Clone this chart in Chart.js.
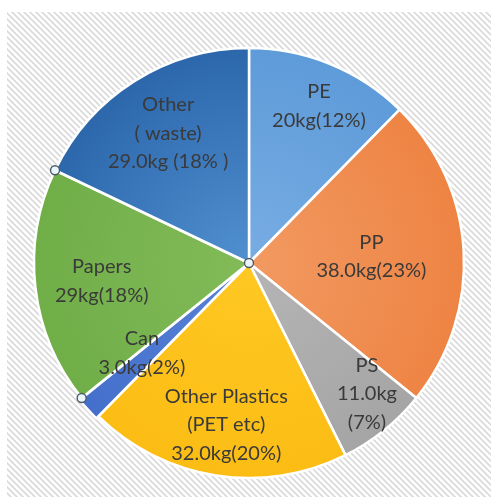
<!DOCTYPE html>
<html>
<head>
<meta charset="utf-8">
<script src="https://cdn.jsdelivr.net/npm/chart.js@4"></script>
<style>
  html, body { margin: 0; padding: 0; background: #ffffff; }
  #wrap { width: 491px; height: 497px; position: relative; }
</style>
</head>
<body>
<div id="wrap"><canvas id="waste-chart"></canvas></div>
<script>
// waste by type, kg
const categories = ['PE', 'PP', 'PS', 'Other Plastics', 'Can', 'Papers', 'Other'];
const weights = [20, 38, 11, 32, 3, 29, 29];
const labelLines = [
    ['PE', '20kg(12%)'],
    ['PP', '38.0kg(23%)'],
    ['PS', '11.0kg', '(7%)'],
    ['Other Plastics', '(PET etc)', '32.0kg(20%)'],
    ['Can', '3.0kg(2%)'],
    ['Papers', '29kg(18%)'],
    ['Other', '( waste)', '29.0kg (18% )']
];

// inner / outer shade of each slice
const innerColors = ['#78ade3', '#f29a62', '#b5b5b5', '#ffc824', '#5a83d6', '#82bb58', '#5190d0'];
const outerColors = ['#5e9bd9', '#ee8444', '#a5a5a5', '#fbbd14', '#4470cc', '#70ae48', '#2c67ac'];

// where each label block sits: degrees clockwise from 12 o'clock, fraction of radius
const labelAngle = [24, 87, 138, 188, 230, 263, 328];
const labelDist = [0.80, 0.57, 0.82, 0.76, 0.65, 0.69, 0.71];

const stripes = document.createElement('canvas');
stripes.width = 6;
stripes.height = 6;
(function () {
    const s = stripes.getContext('2d');
    s.fillStyle = '#ffffff';
    s.fillRect(0, 0, 6, 6);
    s.strokeStyle = '#d9d9d9';
    s.lineWidth = 1.6;
    s.beginPath();
    s.moveTo(-1, -1); s.lineTo(7, 7);
    s.moveTo(-4, 2); s.lineTo(4, 10);
    s.moveTo(2, -4); s.lineTo(10, 4);
    s.stroke();
})();

const hatchBackground = {
    id: 'hatchBackground',
    beforeDraw(chart) {
        const ctx = chart.ctx;
        ctx.save();
        ctx.fillStyle = ctx.createPattern(stripes, 'repeat');
        ctx.fillRect(7, 12, chart.width - 7, chart.height - 12);
        ctx.restore();
    }
};

const sliceLabels = {
    id: 'sliceLabels',
    afterDatasetsDraw(chart) {
        const ctx = chart.ctx;
        const arcs = chart.getDatasetMeta(0).data;
        const cx = arcs[0].x, cy = arcs[0].y, r = arcs[0].outerRadius;
        ctx.save();
        ctx.font = '20px Lato, "Open Sans", sans-serif';
        ctx.fillStyle = '#3a3a3a';
        ctx.textAlign = 'center';
        ctx.textBaseline = 'middle';
        const lh = 28.5;
        labelLines.forEach((lines, i) => {
            const a = labelAngle[i] * Math.PI / 180;
            const x = cx + Math.sin(a) * r * labelDist[i];
            const y = cy - Math.cos(a) * r * labelDist[i];
            const top = y - (lines.length - 1) * lh / 2;
            lines.forEach((t, j) => ctx.fillText(t, x, top + j * lh));
        });
        ctx.restore();
    }
};

// handles of the selected point (Papers)
const selectionHandles = {
    id: 'selectionHandles',
    afterDraw(chart) {
        const ctx = chart.ctx;
        const arc = chart.getDatasetMeta(0).data[categories.indexOf('Papers')];
        const pts = [
            [arc.x, arc.y],
            [arc.x + Math.cos(arc.startAngle) * arc.outerRadius, arc.y + Math.sin(arc.startAngle) * arc.outerRadius],
            [arc.x + Math.cos(arc.endAngle) * arc.outerRadius, arc.y + Math.sin(arc.endAngle) * arc.outerRadius]
        ];
        ctx.save();
        ctx.fillStyle = '#eaf6fc';
        ctx.strokeStyle = '#4d5a66';
        ctx.lineWidth = 1.4;
        pts.forEach(([x, y]) => {
            ctx.beginPath();
            ctx.arc(x, y, 4.5, 0, Math.PI * 2);
            ctx.fill();
            ctx.stroke();
        });
        ctx.restore();
    }
};

function sliceFill(context) {
    const chart = context.chart;
    const i = context.dataIndex;
    const area = chart.chartArea;
    if (!area) return outerColors[i];
    const cx = (area.left + area.right) / 2;
    const cy = (area.top + area.bottom) / 2;
    const g = chart.ctx.createRadialGradient(cx, cy, 0, cx, cy, 215);
    g.addColorStop(0, innerColors[i]);
    g.addColorStop(1, outerColors[i]);
    return g;
}

const ctx = document.getElementById('waste-chart').getContext('2d');
new Chart(ctx, {
    type: 'pie',
    data: {
        labels: categories,
        datasets: [{
            data: weights,
            backgroundColor: sliceFill,
            borderColor: '#ffffff',
            borderWidth: 2.5,
            offset: [0, 0, 0, 0, 6, 0, 0]
        }]
    },
    options: {
        responsive: true,
        maintainAspectRatio: false,
        animation: false,
        events: [],
        radius: 215,
        layout: {
            padding: { left: 34, right: 27, top: 48, bottom: 19 }
        },
        plugins: {
            legend: { display: false },
            tooltip: { enabled: false }
        }
    },
    plugins: [hatchBackground, sliceLabels, selectionHandles]
});
</script>
</body>
</html>
